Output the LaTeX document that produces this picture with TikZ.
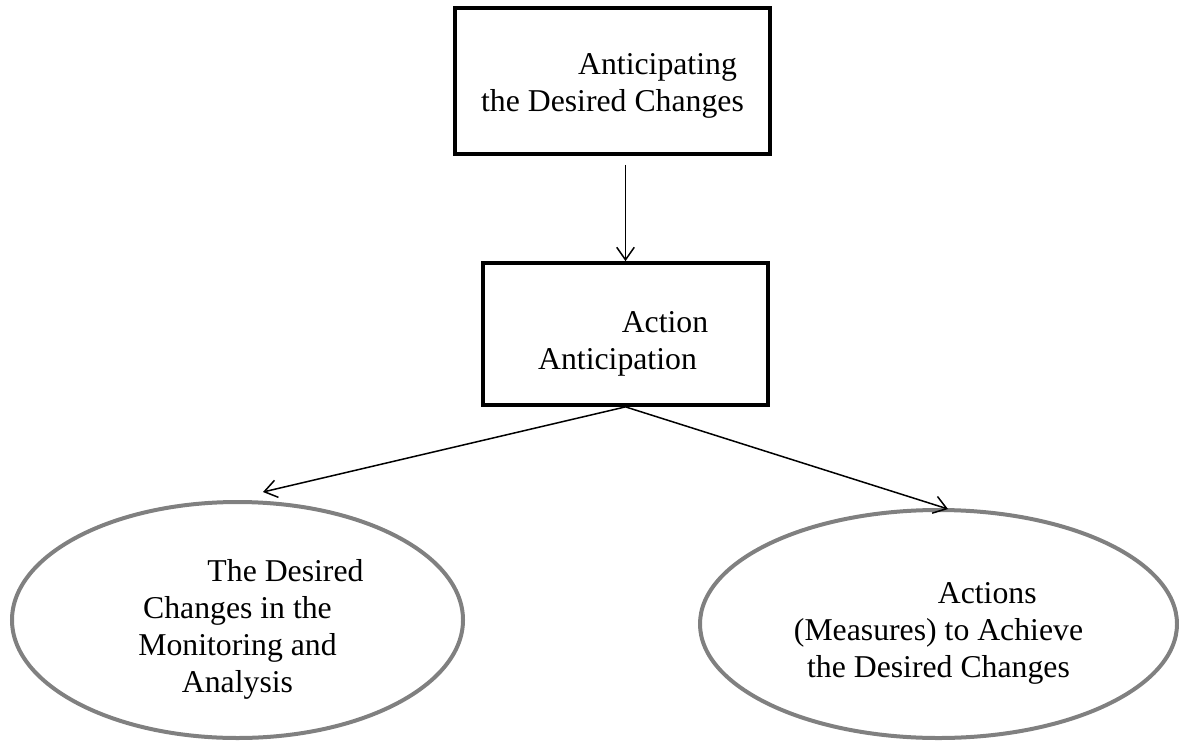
\documentclass[tikz,border=0pt]{standalone}
\usepackage{fontspec}
\setmainfont{Liberation Serif}
\usepackage{xcolor}
\usepackage{tikz}
\usetikzlibrary{positioning,calc,arrows.meta,shapes.geometric}

% strut: đẩy chữ xuống một chút
\newcommand{\lowr}[1]{\rule{0pt}{#1}}

\begin{document}
\begin{tikzpicture}[x=0.4pt,y=0.4pt,
		box/.style={draw,line width=1.5pt,align=center,inner sep=0pt,font=\fontsize{12.7}{14.8}\selectfont},
		oval/.style={ellipse,draw=black!50,line width=1.6pt,align=center,inner sep=0pt,font=\fontsize{12.7}{14.8}\selectfont},
		arr/.style={-{Straight Barb[length=5pt,width=7pt]},line width=0.6pt}]
			\useasboundingbox (0,0) rectangle (1179,742);
			
			% hai hộp chữ nhật
			\node[box,minimum width=126pt,minimum height=58.4pt] (anticip) at (612.5,661) {\lowr{12.6pt}\hspace*{36pt}Anticipating\\the Desired Changes};
			\node[box,minimum width=114pt,minimum height=56.8pt] (action) at (625.5,408) {\lowr{16.6pt}\hspace*{38pt}Action\hspace*{6.4pt}\\Anticipation\hspace*{6.4pt}};
			
			% hai hình elip
			\node[oval,minimum width=180.4pt,minimum height=94.4pt] (monitor) at (237.5,122) {\lowr{16.6pt}\hspace*{38.4pt}The Desired\\Changes in the\\Monitoring and\\Analysis};
			\node[oval,minimum width=190.8pt,minimum height=91.2pt] (measures) at (938.5,118) {\lowr{15.8pt}\hspace*{39pt}Actions\\(Measures) to Achieve\\the Desired Changes};
			
			% các mũi tên
			\coordinate (ltip) at (263,250);
			\coordinate (rtip) at (948,233);
			\draw[arr] ([yshift=-3.6pt]anticip.south -| action.north) -- (action.north);
			\draw[arr] (action.south) -- (ltip);
			\draw[arr] (action.south) -- (rtip);
		\end{tikzpicture}
\end{document}
